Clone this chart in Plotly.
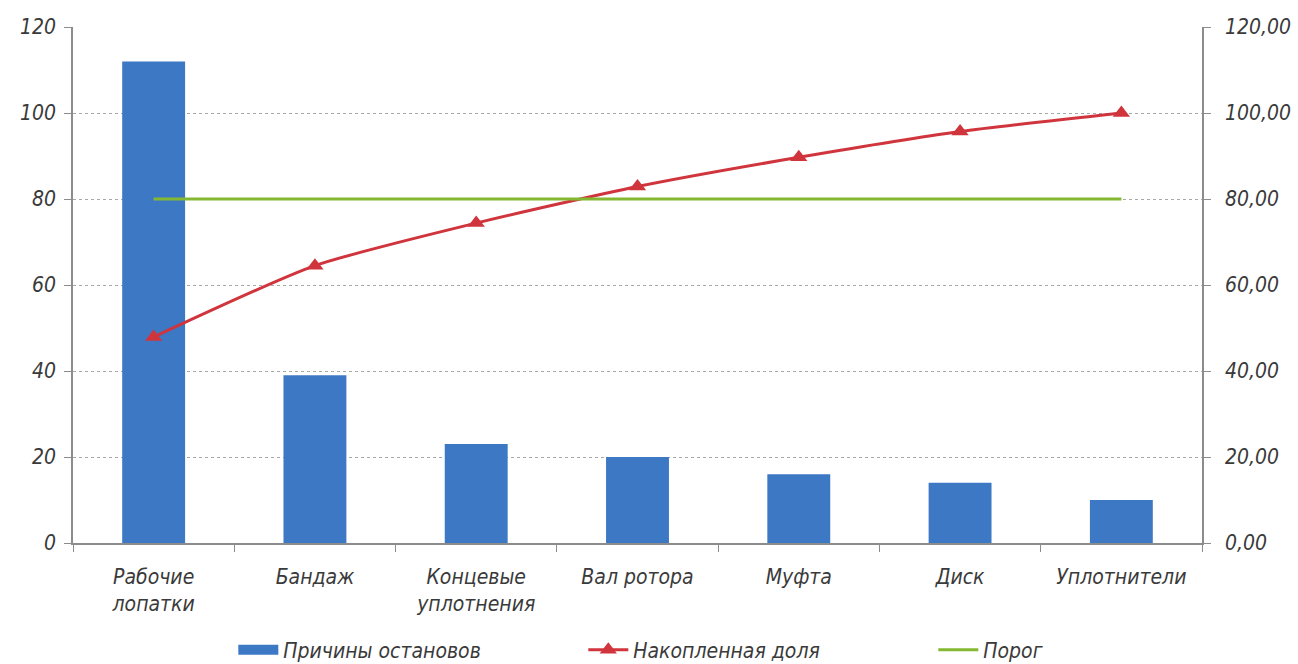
import plotly.graph_objects as go

categories = ["Рабочие<br>лопатки", "Бандаж", "Концевые<br>уплотнения", "Вал ротора",
              "Муфта", "Диск", "Уплотнители"]
stops = [112, 39, 23, 20, 16, 14, 10]
cum_share = [47.9, 64.5, 74.4, 82.9, 89.7, 95.7, 100.0]
threshold = [80, 80, 80, 80, 80, 80, 80]
left_ticks = [0, 20, 40, 60, 80, 100, 120]
right_ticks = [0, 20, 40, 60, 80, 100, 120]

FONT = "Liberation Sans Narrow, DejaVu Sans Condensed, Arial Narrow, sans-serif"
TXT = "#3a3a3a"
AX = "#8c8c8c"
BLUE = "#3D78C4"
TF = dict(size=21, family=FONT, style="italic", color=TXT)

fig = go.Figure()
fig.add_trace(go.Bar(x=categories, y=stops, name="Причины остановов", showlegend=False,
                     legendgroup="bars", marker=dict(color=BLUE, line=dict(width=0))))
# legend-only entry so the bar swatch is drawn as a wide rectangle
fig.add_trace(go.Scatter(x=[None], y=[None], name="Причины остановов", mode="lines",
                         legendgroup="bars", line=dict(color=BLUE, width=12)))
fig.add_trace(go.Scatter(x=categories, y=cum_share, name="Накопленная доля",
                         mode="lines+markers", yaxis="y2",
                         line=dict(color="#D0343C", width=3, shape="spline", smoothing=0.6),
                         marker=dict(symbol="triangle-up", size=15, color="#D0343C")))
fig.add_trace(go.Scatter(x=categories, y=threshold, name="Порог", mode="lines", yaxis="y2",
                         line=dict(color="#84B833", width=3)))

fig.update_layout(
    width=1298, height=664,
    margin=dict(l=73, r=96, t=27, b=121, autoexpand=False),
    plot_bgcolor="white", paper_bgcolor="white",
    font=dict(family=FONT, size=21, color=TXT, style="italic"),
    separators=",.",
    bargap=0.61,
    showlegend=True,
    legend=dict(orientation="h", x=0.142, xanchor="left", y=14 / 664, yref="container",
                yanchor="middle", font=TF, itemwidth=40, entrywidth=295,
                entrywidthmode="pixels", traceorder="normal"),
    xaxis=dict(showline=True, linecolor=AX, linewidth=1.5, ticks="outside",
               tickson="boundaries", ticklen=7, tickcolor=AX, showgrid=False,
               ticklabelstandoff=14, automargin=False, tickfont=TF),
    yaxis=dict(range=[0, 120], tickvals=left_ticks, showline=True, linecolor=AX, linewidth=1.5,
               ticks="outside", ticklen=7, tickcolor=AX,
               showgrid=True, gridcolor="#a8a8a8", griddash="dot", gridwidth=1.2,
               zeroline=False, automargin=False, ticklabelstandoff=4, tickfont=TF),
    yaxis2=dict(range=[0, 120], tickvals=right_ticks, tickformat=".2f", overlaying="y",
                side="right", showline=True, linecolor=AX, linewidth=1.5,
                ticks="outside", ticklen=7, tickcolor=AX, showgrid=False, zeroline=False,
                automargin=False, ticklabelstandoff=10, tickfont=TF),
)

fig.write_html("out.html")
